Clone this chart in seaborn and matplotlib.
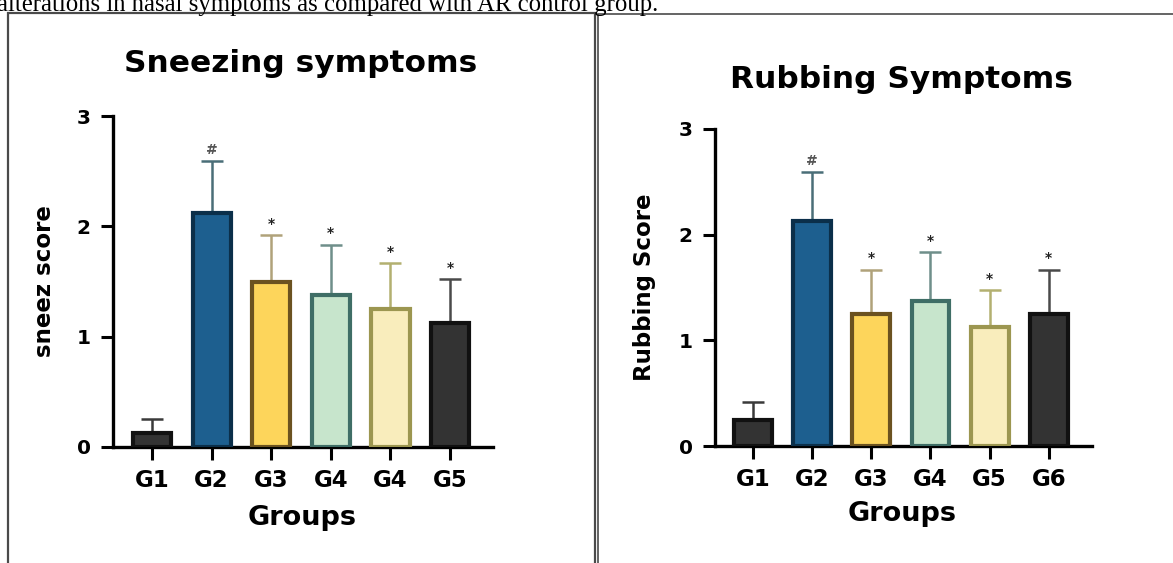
import numpy as np
import pandas as pd
import seaborn as sns
import matplotlib.pyplot as plt
from matplotlib.patches import Rectangle

sns.set_theme(style="white")
plt.rcParams['font.family'] = ['DejaVu Sans']
plt.rcParams['text.color'] = 'black'
plt.rcParams['xtick.color'] = 'black'
plt.rcParams['ytick.color'] = 'black'
plt.rcParams['axes.labelcolor'] = 'black'

# ---- data ----
sneeze_labels = ["G1", "G2", "G3", "G4", "G4", "G5"]
sneeze_mean = [0.125, 2.125, 1.5, 1.375, 1.25, 1.125]
sneeze_err = [0.125, 0.47, 0.42, 0.46, 0.42, 0.40]
sneeze_marks = ["", "#", "*", "*", "*", "*"]

rub_labels = ["G1", "G2", "G3", "G4", "G5", "G6"]
rub_mean = [0.25, 2.125, 1.25, 1.375, 1.125, 1.25]
rub_err = [0.17, 0.47, 0.42, 0.46, 0.35, 0.42]
rub_marks = ["", "#", "*", "*", "*", "*"]

fill_colors = ["#333333", "#1d5f8f", "#fdd55b", "#c7e5cc", "#f9edbc", "#333333"]
edge_colors = ["#111111", "#0b2f4a", "#6b5220", "#3f6e66", "#9c9650", "#111111"]
err_colors = ["#3a3a3a", "#4a6e78", "#b0a27a", "#6f8f8a", "#b3b070", "#4a4a4a"]

W, H = 1173, 563
fig = plt.figure(figsize=(W / 100, H / 100), dpi=100)
fig.patch.set_facecolor("white")


def fx(px):
    return px / W


def fy(py):
    return 1 - py / H


def panel(rect, xlim, labels, means, errs, marks, title, title_xy, ylabel, ylab_x):
    ax = fig.add_axes(rect)
    keys = [f"k{i}" for i in range(len(labels))]
    df = pd.DataFrame({"key": keys, "value": means})
    sns.barplot(data=df, x="key", y="value", hue="key", order=keys, hue_order=keys,
                palette=fill_colors, saturation=1, width=0.64, errorbar=None,
                legend=False, linewidth=3.0, ax=ax, zorder=3)
    for patch, ec in zip(ax.patches, edge_colors):
        patch.set_edgecolor(ec)
        patch.set_linewidth(3.0)
        patch.set_zorder(3)
    pos = np.arange(len(labels))
    for i in range(len(labels)):
        ax.errorbar(pos[i], means[i], yerr=[[0], [errs[i]]], fmt="none",
                    ecolor=err_colors[i], elinewidth=1.8, capsize=8,
                    capthick=1.8, zorder=2)
        if marks[i]:
            ax.annotate(marks[i], (pos[i], means[i] + errs[i]),
                        xytext=(0, 3), textcoords="offset points",
                        ha="center", va="bottom", fontsize=10,
                        fontweight="bold",
                        color="#222222" if marks[i] == "*" else "#555555")
    ax.set_xlim(*xlim)
    ax.set_ylim(0, 3)
    ax.set_yticks([0, 1, 2, 3])
    ax.set_yticklabels(["0", "1", "2", "3"], fontsize=14.5, fontweight="bold")
    ax.set_xticks(pos)
    ax.set_xticklabels(labels, fontsize=16.5, fontweight="bold")
    ax.tick_params(axis="both", length=9, width=2.2, color="black",
                   labelcolor="black", direction="out", pad=7,
                   bottom=True, left=True)
    for s in ["top", "right"]:
        ax.spines[s].set_visible(False)
    for s in ["left", "bottom"]:
        ax.spines[s].set_color("black")
        ax.spines[s].set_linewidth(2.4)
    ax.spines["left"].set_bounds(0, 3)
    ax.set_facecolor("white")
    ax.grid(False)
    ax.set_xlabel("Groups", fontsize=19.5, fontweight="bold", color="black")
    ax.xaxis.label.set_va("center")
    ax.xaxis.set_label_coords(0.497, -0.215)
    ax.set_ylabel(ylabel, fontsize=16.5, fontweight="bold", color="black")
    ax.yaxis.label.set_va("center")
    ax.yaxis.set_label_coords(ylab_x, 0.50)
    fig.text(fx(title_xy[0]), fy(title_xy[1]), title, ha="center", va="baseline",
             fontsize=22.5, fontweight="bold", color="black")
    return ax


panel([fx(113), fy(447), fx(493 - 113), (447 - 116) / H], (-0.654, 5.72),
      sneeze_labels, sneeze_mean, sneeze_err, sneeze_marks,
      "Sneezing symptoms", (301, 72), "sneez score", -0.18)
panel([fx(715), fy(446), fx(1092 - 715), (446 - 129) / H], (-0.642, 5.73),
      rub_labels, rub_mean, rub_err, rub_marks,
      "Rubbing Symptoms", (901, 88), "Rubbing Score", -0.186)

# panel frames
fig.add_artist(Rectangle((fx(8), fy(580)), fx(595 - 8), (580 - 13) / H,
                         transform=fig.transFigure, fill=False,
                         edgecolor="#4a4a4a", linewidth=1.6))
fig.add_artist(Rectangle((fx(598), fy(580)), fx(1185 - 598), (580 - 14) / H,
                         transform=fig.transFigure, fill=False,
                         edgecolor="#4a4a4a", linewidth=1.2))

# caption line from the surrounding document
fig.text(fx(-3), fy(11), "alterations in nasal symptoms as compared with AR control group.",
         ha="left", va="baseline", fontsize=17.8, family="Liberation Serif", color="black")

fig.savefig("out.png", dpi=100, facecolor="white")
